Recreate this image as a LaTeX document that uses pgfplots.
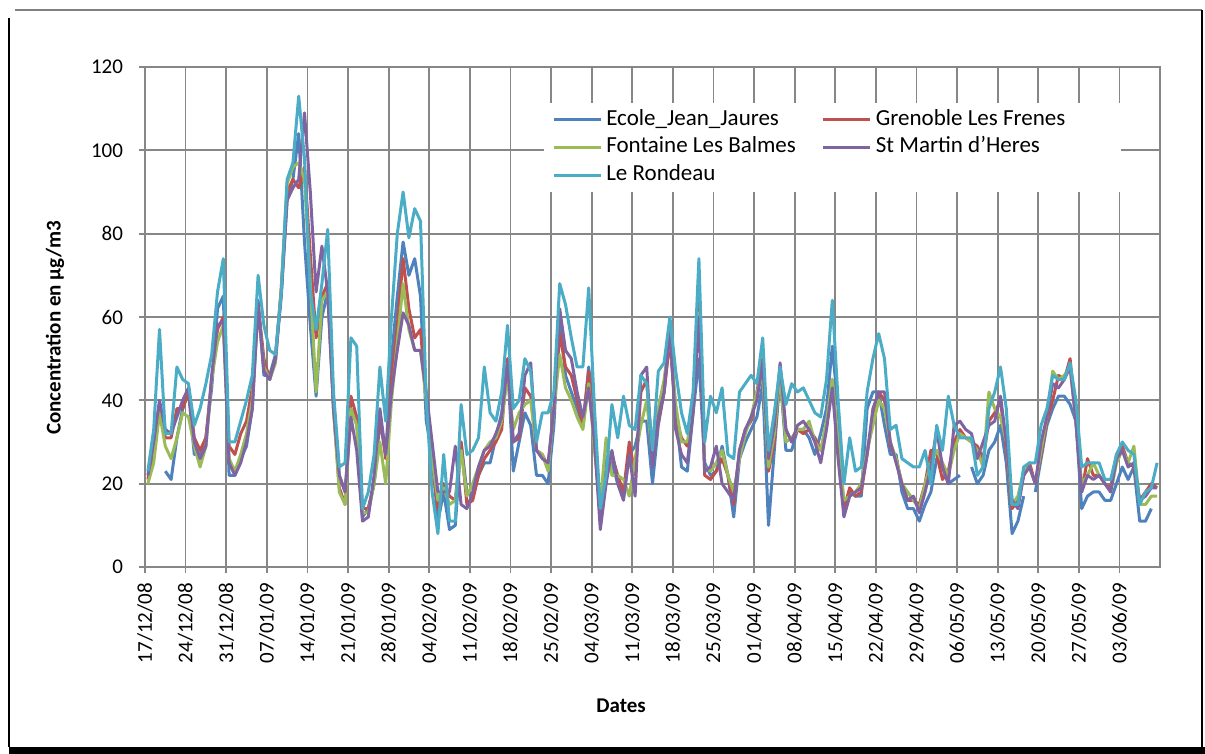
\documentclass[border=0pt]{standalone}
\usepackage{fontspec}
\setmainfont{Carlito}
\usepackage{pgfplots}
\pgfplotsset{compat=1.18}
\usepackage{pgfplotstable}

\definecolor{cEcole}{HTML}{4F81BD}
\definecolor{cGren}{HTML}{C0504D}
\definecolor{cFont}{HTML}{9BBB59}
\definecolor{cStM}{HTML}{8064A2}
\definecolor{cRond}{HTML}{4BACC6}
\definecolor{gridgray}{HTML}{878787}

% d = day index from 17/12/08; columns: Ecole, Grenoble, Fontaine, St Martin, Le Rondeau
\pgfplotstableread{
d ecole gren font stm rond
0 nan 21 20 22 23
1 nan 28 25 30 33
2 nan 39 37 40 57
3 23 31 29 33 32
4 21 31 26 32 32
5 31 38 31 36 48
6 38 38 37 40 45
7 42 42 36 43 44
8 27 31 29 30 34
9 27 28 24 26 38
10 31 31 29 29 44
11 43 45 45 46 51
12 62 57 54 58 66
13 65 60 58 59 74
14 22 29 26 25 30
15 22 27 23 22 30
16 26 32 27 25 35
17 29 35 32 30 40
18 38 43 40 38 46
19 64 63 62 63 70
20 46 50 48 47 58
21 46 45 45 45 52
22 51 50 49 50 51
23 66 67 67 65 66
24 88 90 92 88 93
25 93 93 96 91 97
26 104 91 97 93 113
27 78 96 93 109 98
28 58 75 68 90 66
29 41 55 42 66 57
30 60 65 64 77 68
31 66 68 66 66 81
32 40 38 38 38 42
33 22 19 18 22 24
34 18 15 15 18 25
35 38 41 38 36 55
36 35 36 34 28 53
37 12 14 13 11 14
38 14 14 13 12 18
39 20 20 20 22 27
40 35 37 30 38 48
41 27 26 20 27 35
42 50 45 40 42 60
43 65 58 54 52 80
44 78 74 68 61 90
45 70 62 57 58 79
46 74 55 52 52 86
47 65 57 52 52 83
48 35 40 40 42 40
49 27 25 26 30 18
50 11 14 16 18 8
51 18 20 19 18 27
52 9 17 15 18 11
53 10 16 16 29 11
54 30 30 28 15 39
55 18 15 17 14 27
56 17 16 20 18 28
57 22 22 24 24 31
58 25 26 28 28 48
59 25 28 30 29 37
60 31 30 31 32 35
61 37 33 35 36 42
62 49 50 46 49 58
63 23 30 33 30 38
64 30 31 37 32 40
65 37 43 39 46 50
66 34 41 40 49 47
67 22 28 28 28 30
68 22 27 27 26 37
69 20 24 23 25 37
70 34 38 38 38 42
71 61 56 51 62 68
72 46 48 43 52 63
73 42 46 40 50 55
74 38 40 36 42 48
75 34 34 33 36 48
76 48 47 44 43 67
77 34 30 28 30 38
78 11 12 15 9 14
79 26 24 31 20 22
80 25 27 22 28 39
81 20 22 22 20 31
82 17 18 21 16 41
83 27 30 17 27 34
84 29 22 26 17 33
85 35 42 34 46 46
86 35 45 40 48 44
87 20 26 26 24 28
88 34 35 38 36 47
89 42 42 45 42 49
90 55 55 56 58 60
91 37 36 39 33 47
92 24 31 30 27 37
93 23 29 30 25 32
94 37 38 38 37 42
95 50 66 61 60 74
96 25 22 24 23 30
97 22 21 23 24 41
98 23 23 25 29 37
99 29 26 28 20 43
100 22 22 22 18 27
101 12 15 18 16 26
102 26 28 26 28 42
103 30 33 32 33 44
104 33 35 36 36 46
105 36 42 42 40 44
106 44 50 46 49 55
107 10 23 24 26 28
108 28 30 32 34 37
109 46 47 46 49 48
110 28 33 30 33 39
111 28 30 31 30 44
112 33 33 33 34 42
113 33 32 33 35 43
114 31 33 35 33 40
115 27 31 30 30 37
116 32 28 28 25 36
117 38 34 35 33 45
118 53 45 45 43 64
119 38 28 30 26 40
120 13 14 16 12 20
121 18 19 17 17 31
122 17 17 18 18 23
123 17 18 20 19 24
124 38 27 28 27 42
125 42 36 34 38 50
126 42 42 40 42 56
127 34 40 38 42 50
128 27 29 30 30 33
129 27 26 26 25 34
130 18 20 20 20 26
131 14 16 18 16 25
132 14 16 16 17 24
133 11 15 14 13 24
134 15 20 20 18 28
135 18 28 25 24 20
136 26 27 28 33 34
137 24 21 25 24 28
138 20 23 22 20 41
139 21 30 28 34 34
140 22 33 32 35 31
141 nan 31 31 33 31
142 24 30 30 32 31
143 20 29 28 26 22
144 22 26 24 30 24
145 28 35 42 34 38
146 30 37 38 35 42
147 34 40 36 41 48
148 25 28 30 30 38
149 8 14 15 16 15
150 11 16 17 14 15
151 17 22 23 22 24
152 nan 25 24 24 25
153 18 20 20 20 25
154 26 27 28 30 34
155 34 35 36 36 38
156 38 40 47 44 46
157 41 46 45 43 45
158 41 45 46 45 45
159 39 50 48 48 49
160 35 35 35 35 40
161 14 18 20 18 24
162 17 26 22 22 25
163 18 22 25 21 25
164 18 22 22 22 25
165 16 20 20 20 21
166 16 19 18 18 21
167 20 27 25 26 27
168 24 29 28 28 30
169 21 25 25 24 28
170 24 24 29 25 27
171 11 16 15 16 15
172 11 18 15 17 18
173 14 20 17 19 19
174 nan 19 17 19 25
}\datatable

\begin{document}
\begin{tikzpicture}
  \path[use as bounding box] (0,0) rectangle (602.5pt,377pt);
  \begin{axis}
    [ at={(72.5pt,93.5pt)}
    , anchor=south west
    , scale only axis
    , width=507.5pt
    , height=250pt
    , font=\fontsize{10.5}{12}\selectfont
    , xmin=0, xmax=175
    , ymin=0, ymax=120
    , xtick={0,7,...,168}
    , xticklabels={17/12/08,24/12/08,31/12/08,07/01/09,14/01/09,21/01/09,
        28/01/09,04/02/09,11/02/09,18/02/09,25/02/09,04/03/09,11/03/09,
        18/03/09,25/03/09,01/04/09,08/04/09,15/04/09,22/04/09,29/04/09,
        06/05/09,13/05/09,20/05/09,27/05/09,03/06/09}
    , ytick={0,20,...,120}
    , /pgf/number format/assume math mode=true
    , xtick pos=bottom
    , ytick pos=left
    , tick align=outside
    , major tick length=3pt
    , tick style={gridgray, line width=0.9pt}
    , grid=major
    , major grid style={gridgray, line width=0.9pt}
    , axis line style={gridgray, line width=1.3pt}
    , x tick label style={rotate=90, anchor=east, xshift=1pt}
    , y tick label style={anchor=east}
    , xticklabel shift=2.5pt
    , yticklabel shift=4.5pt
    , xlabel={\bfseries Dates}
    , xlabel style={at={(rel axis cs:0.469,-0.278)}, anchor=center}
    , ylabel={\bfseries Concentration en µg/m3}
    , ylabel style={at={(rel axis cs:-0.0887,0.478)}, anchor=center, rotate=0}
    , unbounded coords=jump
    , legend columns=2
    , legend style={
        at={(rel axis cs:0.393,0.928)},
        anchor=north west,
        draw=none, fill=white,
        font=\fontsize{11.5}{13}\selectfont,
        inner xsep=4pt, inner ysep=1.5pt,
        row sep=0.3pt,
        nodes={inner ysep=1pt, text height=8.5pt, text depth=3pt},
        /tikz/every even column/.append style={column sep=11pt}}
    , legend cell align=left
    , legend image code/.code={%
        \draw[#1, line width=1.5pt] (0pt,0pt) -- (23.5pt,0pt);}
    , every axis plot/.append style={line width=1.5pt, line join=round}
    ]
    \addplot[cEcole, no marks] table[x expr=\thisrow{d}+0.5, y=ecole] {\datatable};
    \addplot[cGren,  no marks] table[x expr=\thisrow{d}+0.5, y=gren]  {\datatable};
    \addplot[cFont,  no marks] table[x expr=\thisrow{d}+0.5, y=font]  {\datatable};
    \addplot[cStM,   no marks] table[x expr=\thisrow{d}+0.5, y=stm]   {\datatable};
    \addplot[cRond,  no marks] table[x expr=\thisrow{d}+0.5, y=rond]  {\datatable};
    \legend{Ecole\_Jean\_Jaures, Grenoble Les Frenes\rule{22pt}{0pt}, Fontaine Les Balmes,
      St Martin d'Heres, Le Rondeau}
  \end{axis}
  % chart frame with its shadow at the bottom
  \draw[gray, line width=0.6pt] (7.5pt,372pt) -- (601pt,372pt);
  \draw[black, line width=0.8pt] (4.5pt,3.5pt) -- (4.5pt,368pt);
  \draw[black, line width=0.8pt] (601pt,372pt) -- (601pt,3.5pt);
  \fill[black] (4.5pt,0pt) rectangle (602.5pt,3.6pt);
\end{tikzpicture}
\end{document}
